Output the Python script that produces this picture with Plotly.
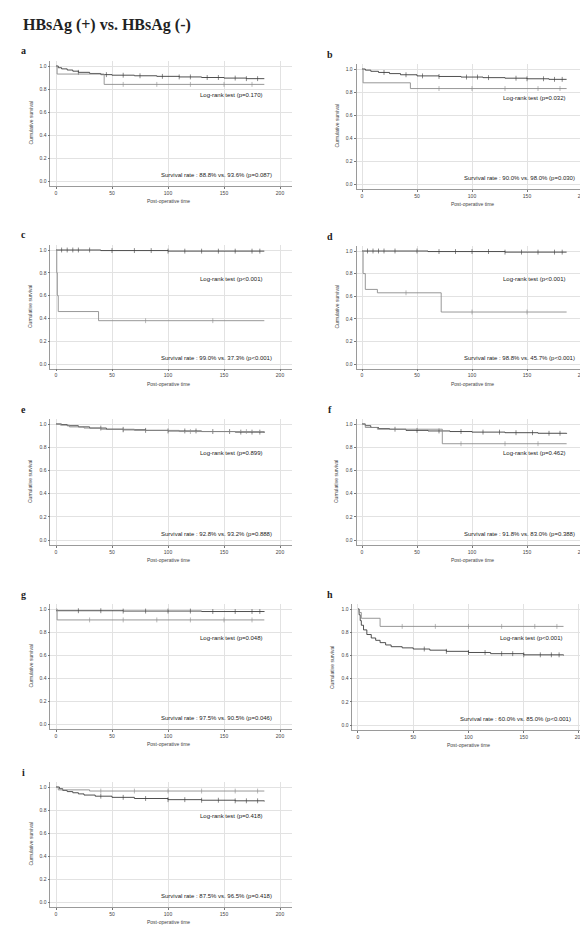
import plotly.graph_objects as go
import numpy as np

W, H = 588, 925

# ---------------- data (approximate) ----------------
panel_labels = ["a", "b", "c", "d", "e", "f", "g", "h", "i"]

# HBsAg(-) curves (dark)
neg_t = {
    "a": [0, 2, 5, 10, 15, 20, 30, 40, 50, 70, 90, 110, 130, 150, 170, 186],
    "b": [0, 3, 8, 15, 25, 35, 50, 70, 90, 110, 130, 150, 170, 186],
    "c": [0, 40, 100, 186],
    "d": [0, 60, 130, 186],
    "e": [0, 5, 10, 20, 30, 45, 60, 80, 100, 130, 160, 186],
    "f": [0, 3, 8, 15, 25, 40, 60, 80, 100, 130, 160, 186],
    "g": [0, 60, 130, 186],
    "h": [0, 1, 2, 3, 5, 8, 12, 16, 20, 25, 30, 40, 50, 65, 80, 100, 120, 150, 186],
    "i": [0, 3, 6, 10, 15, 20, 25, 35, 50, 70, 100, 130, 160, 186],
}
neg_s = {
    "a": [1.0, 0.985, 0.975, 0.965, 0.955, 0.945, 0.935, 0.925, 0.92, 0.915, 0.91, 0.905, 0.9, 0.895, 0.89, 0.89],
    "b": [1.0, 0.99, 0.98, 0.97, 0.96, 0.95, 0.94, 0.935, 0.93, 0.925, 0.92, 0.915, 0.91, 0.91],
    "c": [1.0, 0.995, 0.99, 0.99],
    "d": [1.0, 0.995, 0.99, 0.99],
    "e": [1.0, 0.995, 0.985, 0.975, 0.965, 0.955, 0.95, 0.945, 0.94, 0.935, 0.93, 0.925],
    "f": [1.0, 0.985, 0.97, 0.96, 0.955, 0.945, 0.94, 0.935, 0.93, 0.925, 0.92, 0.915],
    "g": [0.985, 0.982, 0.978, 0.975],
    "h": [1.0, 0.95, 0.9, 0.86, 0.82, 0.78, 0.75, 0.73, 0.71, 0.69, 0.675, 0.665, 0.655, 0.645, 0.635, 0.625, 0.615, 0.605, 0.6],
    "i": [1.0, 0.985, 0.97, 0.96, 0.95, 0.94, 0.93, 0.92, 0.91, 0.9, 0.89, 0.885, 0.88, 0.875],
}

# HBsAg(+) curves (light)
pos_t = {
    "a": [0, 1, 43, 186],
    "b": [0, 1, 44, 186],
    "c": [0, 0.7, 1.2, 2, 38, 186],
    "d": [0, 1, 3, 14, 72, 186],
    "e": [0, 4, 12, 25, 40, 70, 110, 186],
    "f": [0, 3, 14, 73, 186],
    "g": [0, 1, 186],
    "h": [0, 1, 3, 20, 186],
    "i": [0, 2, 30, 186],
}
pos_s = {
    "a": [1.0, 0.93, 0.84, 0.84],
    "b": [1.0, 0.88, 0.83, 0.83],
    "c": [1.0, 0.8, 0.6, 0.46, 0.38, 0.38],
    "d": [1.0, 0.8, 0.66, 0.63, 0.46, 0.46],
    "e": [1.0, 0.99, 0.975, 0.965, 0.955, 0.945, 0.935, 0.93],
    "f": [1.0, 0.97, 0.955, 0.83, 0.83],
    "g": [1.0, 0.905, 0.905],
    "h": [1.0, 0.97, 0.92, 0.85, 0.85],
    "i": [1.0, 0.975, 0.965, 0.965],
}

# censor times
neg_cens = {
    "a": [20, 45, 60, 75, 95, 110, 120, 135, 145, 160, 170, 180],
    "b": [20, 40, 55, 70, 95, 105, 115, 140, 150, 165, 175, 182],
    "c": [5, 10, 15, 20, 30, 50, 70, 85, 100, 115, 130, 145, 160, 175, 182],
    "d": [5, 10, 15, 20, 30, 50, 70, 85, 100, 115, 130, 145, 160, 175, 182],
    "e": [40, 60, 80, 100, 115, 125, 140, 155, 165, 175, 182],
    "f": [30, 50, 70, 90, 110, 125, 140, 155, 170, 180],
    "g": [20, 40, 60, 80, 100, 120, 140, 160, 175, 182],
    "h": [60, 80, 100, 115, 130, 140, 150, 165, 175, 182],
    "i": [40, 60, 80, 100, 115, 130, 145, 160, 170, 180],
}
pos_cens = {
    "a": [60, 90, 120, 150, 175],
    "b": [70, 100, 130, 160, 180],
    "c": [80, 140],
    "d": [40, 100, 150],
    "e": [60, 120, 170],
    "f": [90, 130, 160],
    "g": [30, 60, 90, 120, 150, 175],
    "h": [40, 70, 100, 130, 160, 180],
    "i": [40, 70, 100, 130, 160, 180],
}

logrank_text = {
    "a": "Log-rank test (p=0.170)",
    "b": "Log-rank test (p=0.032)",
    "c": "Log-rank test (p<0.001)",
    "d": "Log-rank test (p<0.001)",
    "e": "Log-rank test (p=0.899)",
    "f": "Log-rank test (p=0.462)",
    "g": "Log-rank test (p=0.048)",
    "h": "Log-rank test (p<0.001)",
    "i": "Log-rank test (p=0.418)",
}
surv_text = {
    "a": "Survival rate : 88.8% vs. 93.6% (p=0.087)",
    "b": "Survival rate : 90.0% vs. 98.0% (p=0.030)",
    "c": "Survival rate : 99.0% vs. 37.3% (p<0.001)",
    "d": "Survival rate : 98.8% vs. 45.7% (p<0.001)",
    "e": "Survival rate : 92.8% vs. 93.2% (p=0.888)",
    "f": "Survival rate : 91.8% vs. 83.0% (p=0.388)",
    "g": "Survival rate : 97.5% vs. 90.5% (p=0.046)",
    "h": "Survival rate : 60.0% vs. 85.0% (p<0.001)",
    "i": "Survival rate : 87.5% vs. 96.5% (p=0.418)",
}

x_ticks = [0, 50, 100, 150, 200]
y_ticks = [0.0, 0.2, 0.4, 0.6, 0.8, 1.0]
y_ticklabels = ["0.0", "0.2", "0.4", "0.6", "0.8", "1.0"]
x_title = "Post-operative time"
y_title = "Cumulative survival"
main_title = "HBsAg (+) vs. HBsAg (-)"

# ---------------- layout geometry (pixels) ----------------
# (x of tick 0, x of tick 200, y of 1.0, y of 0.0)
geom = {
    "a": (48, 272, 58, 173),
    "b": (354, 574, 61, 176),
    "c": (48, 272, 242, 356),
    "d": (354, 574, 243, 356),
    "e": (48, 272, 416, 532),
    "f": (354, 574, 416, 532),
    "g": (48, 272, 601, 716),
    "h": (350, 571, 601, 717),
    "i": (48, 272, 779, 894),
}
XR = (-5, 211)
YR = (-0.04, 1.04)

NEG_COL = "#3c3c3c"
POS_COL = "#8c8c8c"
GRID = "#e2e2e2"

def px(x):
    return x / W

def py(y):
    return 1 - y / H

def step_val(ts, ss, t):
    idx = np.searchsorted(np.array(ts), t, side="right") - 1
    return ss[max(idx, 0)]

fig = go.Figure()
annotations = []

for k, lab in enumerate(panel_labels):
    n = k + 1
    xa = "x" if n == 1 else f"x{n}"
    ya = "y" if n == 1 else f"y{n}"
    x0, x200, y1, y0 = geom[lab]
    sx = (x200 - x0) / 200.0
    right_lim = XR[1] if x0 < 200 else 206
    dl = x0 + XR[0] * sx
    dr = x0 + right_lim * sx
    sy = (y0 - y1) / 1.0
    dt = y1 - (YR[1] - 1.0) * sy
    db = y0 - YR[0] * sy

    for ts, ss, cens, col, w in [
        (neg_t[lab], neg_s[lab], neg_cens[lab], NEG_COL, 0.9),
        (pos_t[lab], pos_s[lab], pos_cens[lab], POS_COL, 0.9),
    ]:
        fig.add_trace(go.Scatter(
            x=ts, y=ss, mode="lines", line=dict(color=col, width=w, shape="hv"),
            xaxis=xa, yaxis=ya, showlegend=False, hoverinfo="skip"))
        cy = [step_val(ts, ss, c) for c in cens]
        fig.add_trace(go.Scatter(
            x=cens, y=cy, mode="markers",
            marker=dict(symbol="line-ns", size=3.5, line=dict(color=col, width=0.6)),
            xaxis=xa, yaxis=ya, showlegend=False, hoverinfo="skip"))

    fig.update_layout(**{
        ("xaxis" if n == 1 else f"xaxis{n}"): dict(
            domain=[px(dl), px(dr)], range=[XR[0], right_lim], anchor=ya,
            tickvals=x_ticks, ticktext=[str(v) for v in x_ticks],
            showgrid=True, gridcolor=GRID, gridwidth=0.8, zeroline=False,
            showline=True, linecolor="#9a9a9a", linewidth=0.8, mirror=False,
            ticks="outside", ticklen=2, tickwidth=0.6, tickcolor="#777",
            tickfont=dict(size=5, color="#444", family="Liberation Sans")),
        ("yaxis" if n == 1 else f"yaxis{n}"): dict(
            domain=[py(db), py(dt)], range=list(YR), anchor=xa,
            tickvals=y_ticks, ticktext=y_ticklabels,
            showgrid=True, gridcolor=GRID, gridwidth=0.8, zeroline=False,
            showline=True, linecolor="#9a9a9a", linewidth=0.8,
            ticks="outside", ticklen=2, tickwidth=0.6, tickcolor="#777",
            tickfont=dict(size=5, color="#444", family="Liberation Sans")),
    })

    # texts inside plot
    annotations.append(dict(xref=xa, yref=ya, x=187, y=0.75, text=logrank_text[lab],
                            showarrow=False, xanchor="right", yanchor="middle",
                            font=dict(size=6, color="#222", family="Liberation Sans")))
    annotations.append(dict(xref=xa, yref=ya, x=195, y=0.05, text=surv_text[lab],
                            showarrow=False, xanchor="right", yanchor="middle",
                            font=dict(size=6, color="#222", family="Liberation Sans")))
    # axis titles
    annotations.append(dict(xref="paper", yref="paper", x=px((x0 + x200) / 2), y=py(y0 + 20),
                            text=x_title, showarrow=False, xanchor="center", yanchor="middle",
                            font=dict(size=5, color="#444", family="Liberation Sans")))
    annotations.append(dict(xref="paper", yref="paper", x=px(x0 - 26), y=py((y0 + y1) / 2),
                            text=y_title, showarrow=False, textangle=-90,
                            xanchor="center", yanchor="middle",
                            font=dict(size=5, color="#444", family="Liberation Sans")))
    # panel letter
    lx = 15 if x0 < 200 else 322
    annotations.append(dict(xref="paper", yref="paper", x=px(lx), y=py(y1 - 15),
                            text=f"<b>{lab}</b>", showarrow=False, xanchor="center", yanchor="middle",
                            font=dict(size=10, color="#222", family="Liberation Serif")))

annotations.append(dict(xref="paper", yref="paper", x=px(99), y=py(17),
                        text=f"<b>{main_title}</b>", showarrow=False,
                        xanchor="center", yanchor="middle",
                        font=dict(size=16, color="#222", family="Liberation Serif")))

fig.update_layout(width=W, height=H, margin=dict(l=0, r=0, t=0, b=0),
                  paper_bgcolor="white", plot_bgcolor="white",
                  annotations=annotations, showlegend=False)

fig.write_html("out.html")
